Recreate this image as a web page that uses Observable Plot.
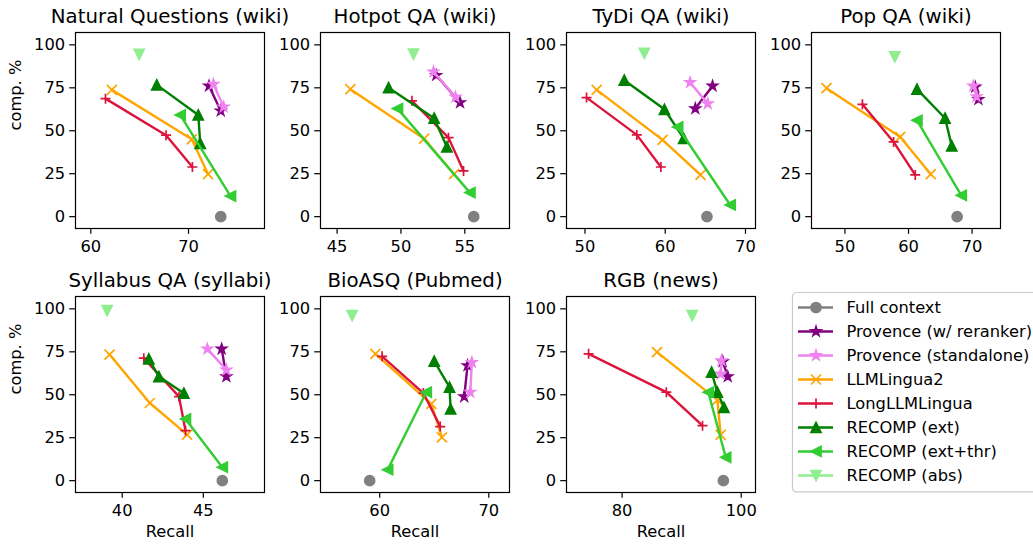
<!DOCTYPE html>
<html><head><meta charset="utf-8">
<script src="https://cdn.jsdelivr.net/npm/d3@7"></script>
<script src="https://cdn.jsdelivr.net/npm/@observablehq/plot@0.6"></script>
<style>
html,body{margin:0;padding:0;background:#fff;}
#fig{position:relative;width:1033px;height:544px;overflow:hidden;background:#fff;font-family:"DejaVu Sans";}
#fig svg{position:absolute;}
</style></head><body><div id="fig"></div>
<script>
// ---------------- data ----------------
const panelTitles = ["Natural Questions (wiki)", "Hotpot QA (wiki)", "TyDi QA (wiki)", "Pop QA (wiki)",
  "Syllabus QA (syllabi)", "BioASQ (Pubmed)", "RGB (news)"];
const xTicks = [[60, 70], [45, 50, 55], [50, 60, 70], [50, 60, 70], [40, 45], [60, 70], [80, 100]];
const xDomains = [[58.43, 77.78], [43.7, 58.5], [47.7, 71.25], [44.74, 74.47], [37.12, 48.77], [54.57, 71.9], [70.66, 102.4]];
const yTicks = [0, 25, 50, 75, 100];
const yDomain = [-6.9, 107.2];
const methods = ["Full context", "Provence (w/ reranker)", "Provence (standalone)", "LLMLingua2",
  "LongLLMLingua", "RECOMP (ext)", "RECOMP (ext+thr)", "RECOMP (abs)"];

// per panel: list of [recall, comp. %]
const fullContext = [[[73.3, 0]], [[55.7, 0]], [[65.2, 0]], [[67.65, 0]], [[46.17, 0]], [[59.08, 0]], [[97.0, 0]]];
const provenceReranker = [
  [[72.1, 76.1], [73.3, 61.6]],
  [[52.76, 82.3], [54.63, 66.4]],
  [[63.75, 62.9], [65.9, 76.1]],
  [[70.5, 75.5], [71.0, 68.3]],
  [[46.13, 76.7], [46.42, 60.6]],
  [[67.75, 48.9], [68.05, 67.0]],
  [[96.9, 69.3], [97.74, 60.6]]
];
const provenceStandalone = [
  [[72.55, 77.1], [73.6, 63.9]],
  [[52.55, 84.3], [54.27, 69.7]],
  [[63.1, 78.1], [65.3, 65.8]],
  [[70.2, 76.1], [70.7, 69.9]],
  [[45.25, 76.7], [46.42, 64.5]],
  [[68.3, 51.5], [68.45, 68.9]],
  [[96.7, 69.9], [96.55, 62.1]]
];
const llmLingua2 = [
  [[62.15, 73.8], [70.34, 45.0], [72.0, 24.7]],
  [[46.04, 74.2], [51.82, 45.4], [54.16, 24.7]],
  [[51.46, 73.8], [59.67, 44.7], [64.4, 24.3]],
  [[47.1, 74.8], [58.7, 46.4], [63.5, 24.7]],
  [[39.22, 73.4], [41.7, 45.2], [44.0, 26.8]],
  [[59.6, 73.8], [64.73, 44.7], [65.7, 25.2]],
  [[85.86, 74.8], [96.0, 47.0], [96.55, 26.6]]
];
const longLLMLingua = [
  [[61.5, 68.7], [67.7, 47.4], [70.4, 28.9]],
  [[50.86, 67.4], [53.72, 46.0], [54.9, 26.6]],
  [[50.2, 69.3], [56.46, 47.6], [59.46, 28.9]],
  [[52.75, 65.4], [57.65, 43.5], [61.06, 24.3]],
  [[41.33, 71.3], [43.5, 48.9], [43.9, 29.1]],
  [[60.22, 72.4], [64.0, 51.0], [65.55, 31.5]],
  [[74.37, 73.8], [87.43, 51.5], [93.5, 32.0]]
];
const recompExt = [
  [[66.75, 76.7], [71.0, 59.2], [71.2, 42.7]],
  [[49.03, 75.1], [52.6, 57.3], [53.6, 40.6]],
  [[54.9, 79.4], [59.9, 62.5], [62.3, 45.6]],
  [[61.33, 74.2], [65.75, 57.3], [66.8, 41.2]],
  [[41.64, 70.9], [42.26, 60.6], [43.8, 50.9]],
  [[65.0, 69.5], [66.4, 54.4], [66.5, 41.7]],
  [[95.03, 63.1], [96.0, 51.5], [97.1, 42.7]]
];
const recompExtThr = [
  [[69.15, 59.2], [74.3, 12.0]],
  [[49.73, 62.9], [55.4, 14.0]],
  [[61.55, 52.2], [68.1, 6.8]],
  [[61.33, 56.1], [68.3, 12.4]],
  [[43.9, 35.9], [46.17, 7.8]],
  [[64.27, 51.5], [60.73, 6.4]],
  [[94.47, 51.5], [97.4, 13.6]]
];
const recompAbs = [[[64.95, 94.5]], [[50.98, 94.6]], [[57.4, 95.1]], [[57.85, 93.0]], [[39.07, 99.0]], [[57.47, 96.1]], [[91.77, 96.1]]];

// ---------------- styles ----------------
const mkSym = (fn) => ({draw(c, size) { const h = Math.sqrt(size / Math.PI); fn(c, h); }});
const symCircle = mkSym((c, h) => { c.moveTo(h, 0); c.arc(0, 0, h, 0, 2 * Math.PI); });
const symStar = mkSym((c, h) => {
  const ri = h * 0.381966;
  for (let k = 0; k < 10; k++) {
    const a = -Math.PI / 2 + k * Math.PI / 5, rr = k % 2 ? ri : h;
    if (k) c.lineTo(rr * Math.cos(a), rr * Math.sin(a)); else c.moveTo(rr * Math.cos(a), rr * Math.sin(a));
  }
  c.closePath();
});
const symX = mkSym((c, h) => { c.moveTo(-h, -h); c.lineTo(h, h); c.moveTo(-h, h); c.lineTo(h, -h); });
const symPlus = mkSym((c, h) => { c.moveTo(-h, 0); c.lineTo(h, 0); c.moveTo(0, -h); c.lineTo(0, h); });
const symTriUp = mkSym((c, h) => { c.moveTo(0, -h); c.lineTo(h, h); c.lineTo(-h, h); c.closePath(); });
const symTriLeft = mkSym((c, h) => { c.moveTo(-h, 0); c.lineTo(h, -h); c.lineTo(h, h); c.closePath(); });
const symTriDown = mkSym((c, h) => { c.moveTo(0, h); c.lineTo(-h, -h); c.lineTo(h, -h); c.closePath(); });

const seriesData = [fullContext, provenceReranker, provenceStandalone, llmLingua2, longLLMLingua, recompExt, recompExtThr, recompAbs];
const seriesColor = ["#808080", "#800080", "#ee82ee", "#ffa500", "#dc143c", "#008000", "#32cd32", "#90ee90"];
const seriesSym = [symCircle, symStar, symStar, symX, symPlus, symTriUp, symTriLeft, symTriDown];
const seriesFilled = [true, true, true, false, false, true, true, true];

const LW = 2.4, MEW = 1.7, MR = 5;
const FS = "16.3px", TITLE_FS = 19.8;

function seriesMarks(pts, i, xAcc, yAcc) {
  const out = [];
  out.push(Plot.line(pts, {x: xAcc, y: yAcc, stroke: seriesColor[i], strokeWidth: LW}));
  out.push(Plot.dot(pts, {
    x: xAcc, y: yAcc, r: MR, symbol: seriesSym[i],
    fill: seriesFilled[i] ? seriesColor[i] : "none",
    stroke: seriesColor[i], strokeWidth: MEW
  }));
  return out;
}

function styleSvg(el, left, top) {
  el.style.position = "absolute";
  el.style.left = left + "px";
  el.style.top = top + "px";
  el.style.background = "transparent";
  el.style.overflow = "visible";
  el.style.maxWidth = "none";
  el.style.fontFamily = "DejaVu Sans";
  el.style.fontSize = FS;
  el.style.color = "black";
}

// ---------------- layout ----------------
const fig = document.getElementById("fig");
const colL = [74.7, 320, 565.7, 811], rowT = [31.7, 296];
const frameW = 189, frameH = 196;
const mL = 80, mR = 20, mT = 40, mB = 50;

panelTitles.forEach((title, p) => {
  const row = p < 4 ? 0 : 1, col = p < 4 ? p : p - 4;
  const marks = [];
  marks.push(Plot.axisX({ticks: xTicks[p], tickSize: 5.8, tickPadding: 6, label: null, strokeWidth: 1.2}));
  marks.push(Plot.axisY({ticks: yTicks, tickSize: 5.8, tickPadding: 4.5, label: null, strokeWidth: 1.2}));
  seriesData.forEach((sd, i) => {
    marks.push(...seriesMarks(sd[p], i, d => d[0], d => d[1]));
  });
  marks.push(Plot.frame({stroke: "black", strokeWidth: 1.2}));
  marks.push(Plot.text([title], {text: d => d, frameAnchor: "top", lineAnchor: "bottom", dy: -10, fontSize: TITLE_FS, fill: "black"}));
  if (col === 0) marks.push(Plot.text(["comp. %"], {text: d => d, frameAnchor: "left", dx: -60, rotate: -90, fill: "black"}));
  if (row === 1) marks.push(Plot.text(["Recall"], {text: d => d, frameAnchor: "bottom", lineAnchor: "middle", dy: 39, fill: "black"}));
  const chart = Plot.plot({
    width: frameW + mL + mR, height: frameH + mT + mB,
    marginLeft: mL, marginRight: mR, marginTop: mT, marginBottom: mB,
    x: {domain: xDomains[p]}, y: {domain: yDomain},
    marks
  });
  styleSvg(chart, colL[col] - mL, rowT[row] - mT);
  fig.appendChild(chart);
});

// ---------------- legend ----------------
const legMarks = [Plot.frame({stroke: "#cccccc", strokeWidth: 1.2, rx: 4, fill: "white"})];
methods.forEach((m, i) => {
  legMarks.push(Plot.ruleY([m], {y: d => d, x1: 0, x2: 1, stroke: seriesColor[i], strokeWidth: LW}));
  legMarks.push(Plot.dot([m], {
    y: d => d, x: 0.5, r: MR, symbol: seriesSym[i],
    fill: seriesFilled[i] ? seriesColor[i] : "none", stroke: seriesColor[i], strokeWidth: MEW
  }));
  legMarks.push(Plot.text([m], {y: d => d, x: 1, dx: 13, text: d => d, textAnchor: "start", lineAnchor: "middle", fill: "black"}));
});
const legend = Plot.plot({
  width: 262, height: 199.4, margin: 0,
  x: {domain: [0, 1], range: [6, 41], axis: null},
  y: {type: "point", domain: methods, range: [14, 183.5], padding: 0, axis: null},
  marks: legMarks
});
styleSvg(legend, 792.3, 292.3);
fig.appendChild(legend);
</script></body></html>
